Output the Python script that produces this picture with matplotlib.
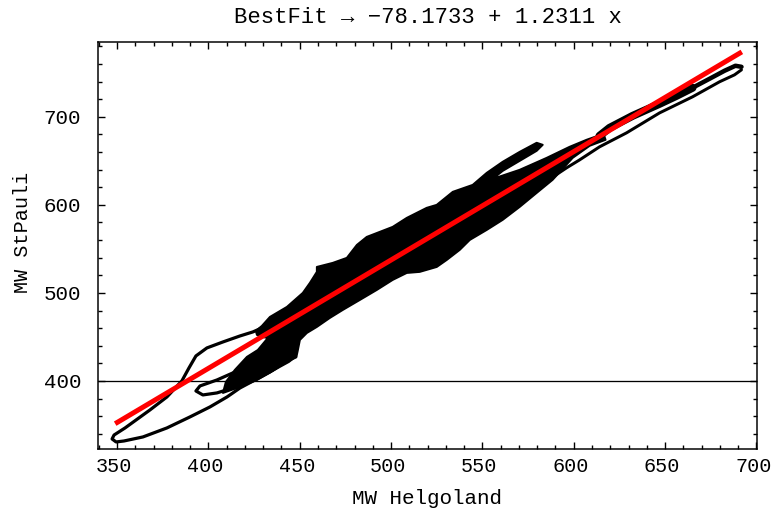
import matplotlib
matplotlib.use("Agg")
import matplotlib.pyplot as plt
from matplotlib.ticker import MultipleLocator
from matplotlib.transforms import ScaledTranslation
import numpy as np

FONT = ["Liberation Mono", "DejaVu Sans Mono"]
plt.rcParams["font.family"] = FONT

# Fit coefficients and the Helgoland range covered by the data
intercept = -78.1733
slope = 1.2311
fit_x_range = [349.0, 692.0]

# Dense core of the MW Helgoland / MW StPauli loops (outline, Helgoland then StPauli)
core_helgoland = [426.0, 429.3, 433.7, 443.0, 451.7, 455.6, 459.4, 459.4, 468.1, 475.8,
                  481.3, 486.7, 500.9, 508.6, 519.5, 525.0, 533.8, 544.7, 552.4, 561.1,
                  570.4, 579.7, 583.0, 579.7, 570.4, 561.1, 555.6, 570.4, 585.2, 597.7,
                  607.0, 616.3, 617.4, 608.7, 599.4, 588.4, 579.7, 570.4, 561.1, 552.4,
                  543.1, 537.6, 530.5, 525.0, 515.7, 508.6, 500.9, 492.2, 482.9, 473.6,
                  466.5, 459.4, 453.9, 450.1, 449.0, 448.3, 444.1, 439.1, 426.6, 417.3,
                  408.0, 409.6, 414.5, 421.1, 427.1, 432.6, 429.3, 426.6]
core_stpauli = [456.8, 462.5, 472.7, 484.1, 500.0, 511.4, 523.9, 529.5, 534.1, 539.8,
                554.5, 563.6, 575.0, 585.2, 596.6, 600.0, 614.8, 622.7, 636.4, 648.9,
                660.2, 670.5, 668.2, 661.4, 650.0, 638.6, 629.5, 639.8, 653.4, 665.9,
                673.9, 680.7, 673.9, 667.1, 653.4, 628.4, 613.6, 597.7, 583.0, 571.6,
                560.2, 548.9, 537.5, 529.5, 523.9, 522.7, 514.8, 503.4, 492.0, 480.7,
                471.6, 461.4, 454.5, 446.6, 435.2, 428.4, 421.6, 415.9, 401.1, 393.2,
                386.4, 398.9, 412.5, 427.3, 435.2, 448.9, 450.0, 452.3]

# Large low-water loop
low_loop_helgoland = [429.3, 424.4, 417.3, 408.0, 399.2, 393.2, 389.4, 385.5, 377.3, 368.0,
                      354.4, 348.4, 347.3, 349.5, 353.8, 364.2, 377.3, 389.9, 400.9, 410.2,
                      417.3, 425.5, 433.7, 441.9, 447.9]
low_loop_stpauli = [460.2, 455.7, 451.1, 444.3, 437.5, 428.4, 414.8, 400.0, 381.8, 367.0,
                    346.6, 338.6, 334.1, 330.7, 331.8, 336.4, 346.6, 359.1, 370.5, 381.8,
                    392.0, 401.1, 410.2, 421.6, 427.3]

# Small inner loop
small_loop_helgoland = [443.5, 435.3, 424.4, 413.4, 404.7, 397.0, 393.2, 395.4, 404.7,
                        413.4, 422.7, 432.0, 440.2]
small_loop_stpauli = [423.9, 412.5, 401.1, 392.0, 386.4, 384.1, 388.6, 394.3, 401.1,
                      409.1, 415.9, 423.9, 431.8]

# High-water arm (upper strand) and its return strand
arm_helgoland = [614.1, 619.6, 632.2, 647.0, 656.3, 665.0, 674.3, 682.5, 688.5, 691.8]
arm_stpauli = [678.4, 687.5, 701.1, 714.8, 723.9, 733.0, 743.2, 752.3, 758.0, 756.8]
return_helgoland = [691.8, 688.0, 679.8, 665.0, 647.0, 628.9, 614.1, 603.2, 596.1, 589.5]
return_stpauli = [753.4, 747.7, 739.8, 722.7, 704.5, 681.8, 665.9, 651.1, 642.1, 633.0]

x_ticks = [350, 400, 450, 500, 550, 600, 650, 700]
y_ticks = [400, 500, 600, 700]

W, H = 772, 515
fig = plt.figure(figsize=(W / 100, H / 100), dpi=100)
ax = fig.add_axes([98 / W, 1 - 449 / H, (757 - 98) / W, (449 - 42) / H])
ax.set_xlim(339.6, 700.3)
ax.set_ylim(322.7, 785.0)

px = 72 / 100  # points per pixel

ax.axhline(400, color="black", lw=1.3 * px, zorder=1)

ax.fill(core_helgoland, core_stpauli, color="black", lw=2 * px, ec="black", zorder=2,
        joinstyle="round")
ax.plot(low_loop_helgoland, low_loop_stpauli, color="black", lw=3.2 * px, zorder=2,
        solid_joinstyle="round", solid_capstyle="round")
ax.plot(small_loop_helgoland, small_loop_stpauli, color="black", lw=3.2 * px, zorder=2,
        solid_joinstyle="round", solid_capstyle="round")
ax.plot(arm_helgoland[:6], arm_stpauli[:6], color="black", lw=8 * px, zorder=2,
        solid_capstyle="round")
ax.plot(arm_helgoland[5:], arm_stpauli[5:], color="black", lw=4.5 * px, zorder=2,
        solid_capstyle="round")
ax.plot(return_helgoland, return_stpauli, color="black", lw=3 * px, zorder=2,
        solid_joinstyle="round", solid_capstyle="round")

fx = np.array(fit_x_range)
ax.plot(fx, intercept + slope * fx, color="#ff0000", lw=5 * px, zorder=3,
        solid_capstyle="butt")

ax.set_xticks(x_ticks)
ax.set_yticks(y_ticks)
ax.xaxis.set_minor_locator(MultipleLocator(10))
ax.yaxis.set_minor_locator(MultipleLocator(20))
ax.tick_params(which="both", direction="in", top=True, right=True, width=1.0,
               colors="black")
ax.tick_params(axis="x", labelsize=14.5, pad=6)
ax.tick_params(axis="y", labelsize=15, pad=12)
ax.tick_params(which="major", length=5)
ax.tick_params(which="minor", length=3)
for s in ax.spines.values():
    s.set_linewidth(1.5 * px)

# nudge the bottom labels slightly left
shift = ScaledTranslation(-3 / 100, 0, fig.dpi_scale_trans)
for lbl in ax.get_xticklabels():
    lbl.set_transform(lbl.get_transform() + shift)

ax.set_xlabel("MW Helgoland", fontsize=15, labelpad=9)
ax.set_ylabel("MW StPauli", fontsize=14.5)
ax.yaxis.set_label_coords(-0.100, 0.533)
ax.set_title("BestFit \u2192 \u221278.1733 + 1.2311 x", fontsize=16, pad=14)

fig.savefig("out.png", dpi=100)
